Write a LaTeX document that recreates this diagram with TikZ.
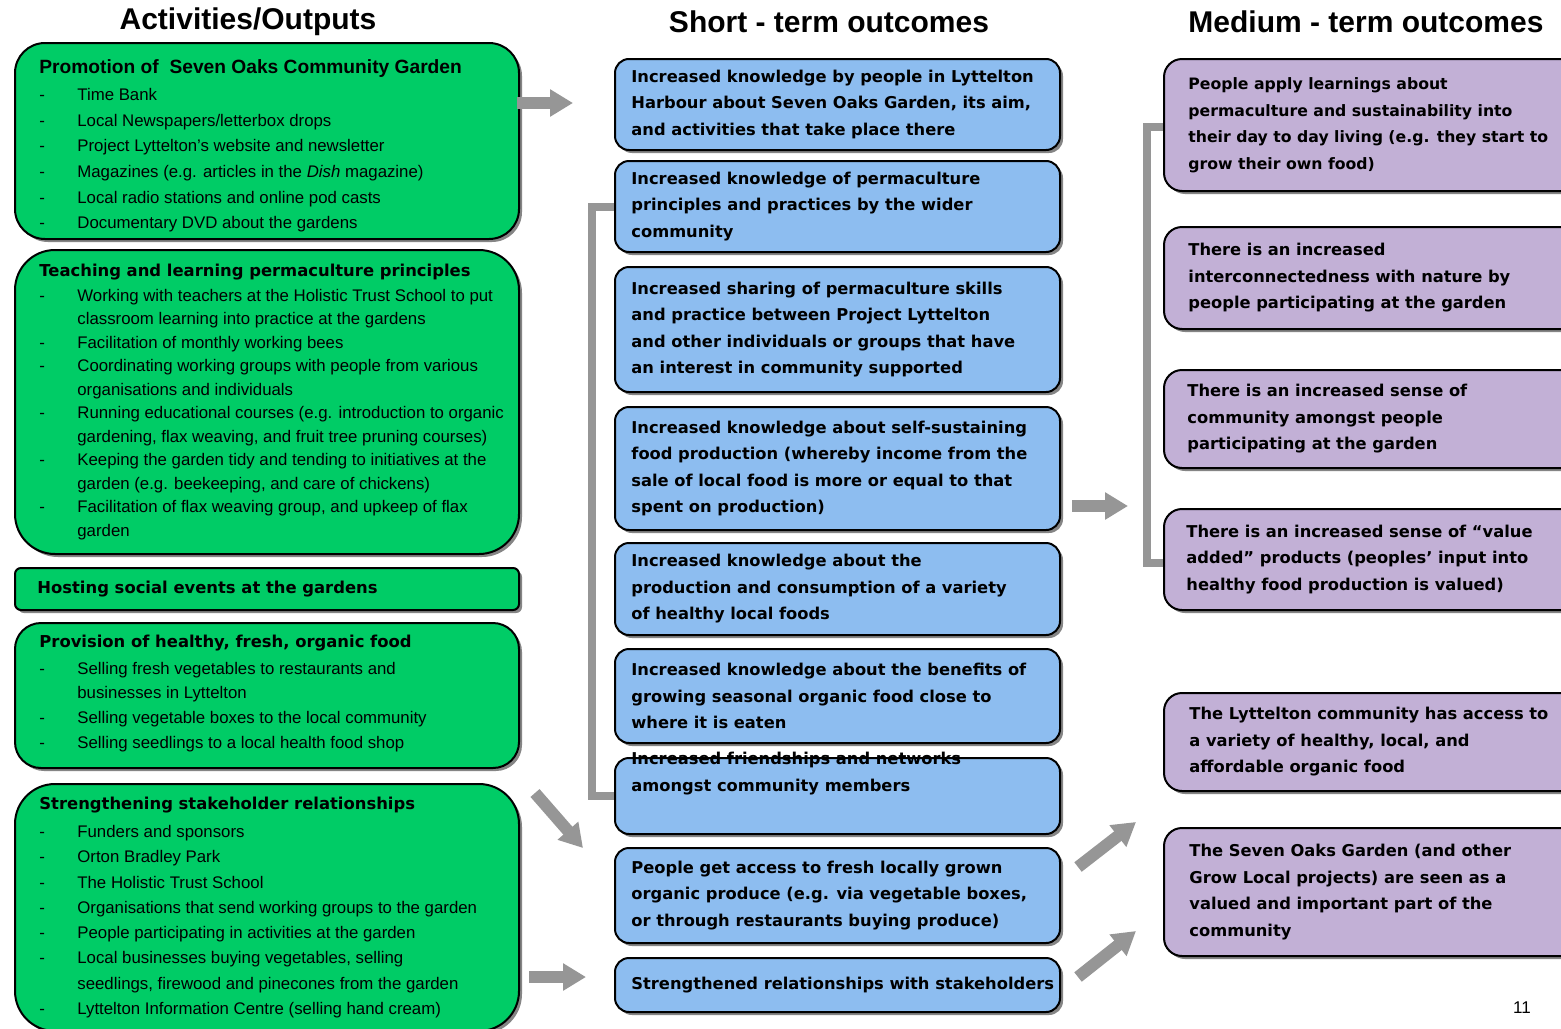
\documentclass[tikz,border=0pt]{standalone}
\usepackage{fontspec}
\setmainfont{Liberation Sans}
\newfontfamily\vfont{DejaVu Sans}
\usetikzlibrary{positioning,shadows,arrows.meta}
\definecolor{actgreen}{RGB}{0,204,102}
\definecolor{shortblue}{RGB}{141,189,240}
\definecolor{medpurple}{RGB}{194,176,214}
\definecolor{arrgray}{RGB}{150,150,150}
\newcommand{\gitem}{\makebox[19pt][l]{-}}
\newcommand{\gcont}{\hspace*{19pt}}
\newcommand{\ghead}[1]{{\vfont\bfseries\fontsize{8.2}{12}\selectfont #1}}

\begin{document}
\begin{tikzpicture}[x=0.5pt,y=-0.5pt,
    outbox/.style={draw=black, line width=1pt, anchor=north west,
        drop shadow={shadow xshift=1.5pt, shadow yshift=-1.5pt, fill=black!60, opacity=0.8}},
    actbox/.style={outbox, fill=actgreen, minimum width=252pt},
    stbox/.style={outbox, fill=shortblue, minimum width=222.5pt, rounded corners=7pt},
    mtbox/.style={outbox, fill=medpurple, minimum width=210pt, rounded corners=9pt},
    acttext/.style={anchor=west, align=left, inner sep=0pt, font=\fontsize{8.4}{12.8}\selectfont},
    outtext/.style={anchor=west, align=left, inner sep=0pt, font=\vfont\bfseries\fontsize{8.15}{13.25}\selectfont},
    coltitle/.style={font=\bfseries\fontsize{15}{18}\selectfont},
    bigarrow/.style={arrgray, line width=6pt, -{Triangle[length=11.5pt,width=13pt]}},
    bracket/.style={arrgray, line width=4pt}]
    \useasboundingbox (0,0) rectangle (1561,1028);

    \node[coltitle] (acttitle) at (248,22) {Activities/Outputs};
    \node[coltitle] (sttitle) at (829,22) {Short - term outcomes};
    \node[coltitle] (mttitle) at (1366,22) {Medium - term outcomes};

    \node[actbox, minimum height=98pt, rounded corners=15pt] (g1) at (14,42) {};
    \node[acttext] (g1t) at ([xshift=12.5pt,yshift=-2.5pt]g1.west) {%
        {\bfseries\fontsize{9.6}{13}\selectfont Promotion of\ \ Seven Oaks Community Garden}\\[0.7pt]
        \gitem Time Bank\\
        \gitem Local Newspapers/letterbox drops\\
        \gitem Project Lyttelton’s website and newsletter\\
        \gitem Magazines (e.g. articles in the \textit{Dish} magazine)\\
        \gitem Local radio stations and online pod casts\\
        \gitem Documentary DVD about the gardens};

    \node[actbox, minimum height=152pt, rounded corners=20pt] (g2) at (14,249) {};
    \node[acttext, font=\fontsize{8.4}{11.75}\selectfont] (g2t) at ([xshift=12.5pt]g2.west) {%
        \ghead{Teaching and learning permaculture principles}\\[0.75pt]
        \gitem Working with teachers at the Holistic Trust School to put\\
        \gcont classroom learning into practice at the gardens\\
        \gitem Facilitation of monthly working bees\\
        \gitem Coordinating working groups with people from various\\
        \gcont organisations and individuals\\
        \gitem Running educational courses (e.g. introduction to organic\\
        \gcont gardening, flax weaving, and fruit tree pruning courses)\\
        \gitem Keeping the garden tidy and tending to initiatives at the\\
        \gcont garden (e.g. beekeeping, and care of chickens)\\
        \gitem Facilitation of flax weaving group, and upkeep of flax\\
        \gcont garden};

    \node[actbox, minimum height=21pt, rounded corners=3pt] (g3) at (14,567) {};
    \node[acttext] (g3t) at ([xshift=11.5pt]g3.west) {\ghead{Hosting social events at the gardens}};

    \node[actbox, minimum height=72.5pt, rounded corners=13pt] (g4) at (14,622) {};
    \node[acttext, font=\fontsize{8.4}{12.35}\selectfont] (g4t) at ([xshift=12.5pt,yshift=1pt]g4.west) {%
        \ghead{Provision of healthy, fresh, organic food}\\[1pt]
        \gitem Selling fresh vegetables to restaurants and\\
        \gcont businesses in Lyttelton\\
        \gitem Selling vegetable boxes to the local community\\
        \gitem Selling seedlings to a local health food shop};

    \node[actbox, minimum height=123.5pt, rounded corners=20pt] (g5) at (14,783) {};
    \node[acttext, font=\fontsize{8.4}{12.65}\selectfont] (g5t) at ([xshift=12.5pt]g5.west) {%
        \ghead{Strengthening stakeholder relationships}\\[1.3pt]
        \gitem Funders and sponsors\\
        \gitem Orton Bradley Park\\
        \gitem The Holistic Trust School\\
        \gitem Organisations that send working groups to the garden\\
        \gitem People participating in activities at the garden\\
        \gitem Local businesses buying vegetables, selling\\
        \gcont seedlings, firewood and pinecones from the garden\\
        \gitem Lyttelton Information Centre (selling hand cream)};

    \draw[bracket] (614,207) -- (592,207) -- (592,796) -- (614,796);
    \draw[bracket] (1163,127) -- (1147,127) -- (1147,563) -- (1163,563);

    \node[stbox, minimum height=45.5pt] (b1) at (614,58) {};
    \node[outtext] (b1t) at ([xshift=8.5pt]b1.west) {Increased knowledge by people in Lyttelton\\
        Harbour about Seven Oaks Garden, its aim,\\
        and activities that take place there};
    \node[stbox, minimum height=45.5pt] (b2) at (614,160) {};
    \node[outtext] (b2t) at ([xshift=8.5pt]b2.west) {Increased knowledge of permaculture\\
        principles and practices by the wider\\
        community};
    \node[stbox, minimum height=62.5pt] (b3) at (614,266) {};
    \node[outtext] (b3t) at ([xshift=8.5pt]b3.west) {Increased sharing of permaculture skills\\
        and practice between Project Lyttelton\\
        and other individuals or groups that have\\
        an interest in community supported};
    \node[stbox, minimum height=61.5pt] (b4) at (614,406) {};
    \node[outtext] (b4t) at ([xshift=8.5pt]b4.west) {Increased knowledge about self-sustaining\\
        food production (whereby income from the\\
        sale of local food is more or equal to that\\
        spent on production)};
    \node[stbox, minimum height=46pt] (b5) at (614,542) {};
    \node[outtext] (b5t) at ([xshift=8.5pt]b5.west) {Increased knowledge about the\\
        production and consumption of a variety\\
        of healthy local foods};
    \node[stbox, minimum height=47pt] (b6) at (614,648) {};
    \node[outtext] (b6t) at ([xshift=8.5pt]b6.west) {Increased knowledge about the benefits of\\
        growing seasonal organic food close to\\
        where it is eaten};
    \node[stbox, minimum height=38pt] (b7) at (614,757) {};
    \node[outtext] (b7t) at ([xshift=8.5pt,yshift=11.25pt]b7.west) {Increased friendships and networks\\
        amongst community members};
    \node[stbox, minimum height=47.5pt] (b8) at (614,847) {};
    \node[outtext] (b8t) at ([xshift=8.5pt]b8.west) {People get access to fresh locally grown\\
        organic produce (e.g. via vegetable boxes,\\
        or through restaurants buying produce)};
    \node[stbox, minimum height=27pt] (b9) at (614,957) {};
    \node[outtext] (b9t) at ([xshift=8.5pt]b9.west) {Strengthened relationships with stakeholders};

    \node[mtbox, minimum height=66pt] (p1) at (1163,58) {};
    \node[outtext, font=\vfont\bfseries\fontsize{7.85}{13.25}\selectfont] (p1t) at ([xshift=12.5pt]p1.west) {People apply learnings about\\
        permaculture and sustainability into\\
        their day to day living (e.g. they start to\\
        grow their own food)};
    \node[mtbox, minimum height=51pt] (p2) at (1163,226) {};
    \node[outtext] (p2t) at ([xshift=12.5pt]p2.west) {There is an increased\\
        interconnectedness with nature by\\
        people participating at the garden};
    \node[mtbox, minimum height=49pt] (p3) at (1163,369) {};
    \node[outtext] (p3t) at ([xshift=12pt]p3.west) {There is an increased sense of\\
        community amongst people\\
        participating at the garden};
    \node[mtbox, minimum height=50.5pt] (p4) at (1163,508) {};
    \node[outtext] (p4t) at ([xshift=11.5pt]p4.west) {There is an increased sense of “value\\
        added” products (peoples’ input into\\
        healthy food production is valued)};
    \node[mtbox, minimum height=49pt] (p5) at (1163,692) {};
    \node[outtext] (p5t) at ([xshift=13pt]p5.west) {The Lyttelton community has access to\\
        a variety of healthy, local, and\\
        affordable organic food};
    \node[mtbox, minimum height=64pt] (p6) at (1163,827) {};
    \node[outtext] (p6t) at ([xshift=13pt]p6.west) {The Seven Oaks Garden (and other\\
        Grow Local projects) are seen as a\\
        valued and important part of the\\
        community};

    \coordinate (a1s) at (517,103);
    \coordinate (a1e) at (573,103);
    \coordinate (a2s) at (535,793);
    \coordinate (a2e) at (583,848);
    \coordinate (a3s) at (529,977);
    \coordinate (a3e) at (586,977);
    \coordinate (a4s) at (1072,506);
    \coordinate (a4e) at (1128,506);
    \coordinate (a5s) at (1078,867);
    \coordinate (a5e) at (1136,822);
    \coordinate (a6s) at (1078,977);
    \coordinate (a6e) at (1136,931);
    \foreach \a in {1,...,6}
        \draw[bigarrow] (a\a s) -- (a\a e);

    \node[font=\fontsize{8.5}{10}\selectfont] (pagenum) at (1522,1008) {11};
\end{tikzpicture}
\end{document}
